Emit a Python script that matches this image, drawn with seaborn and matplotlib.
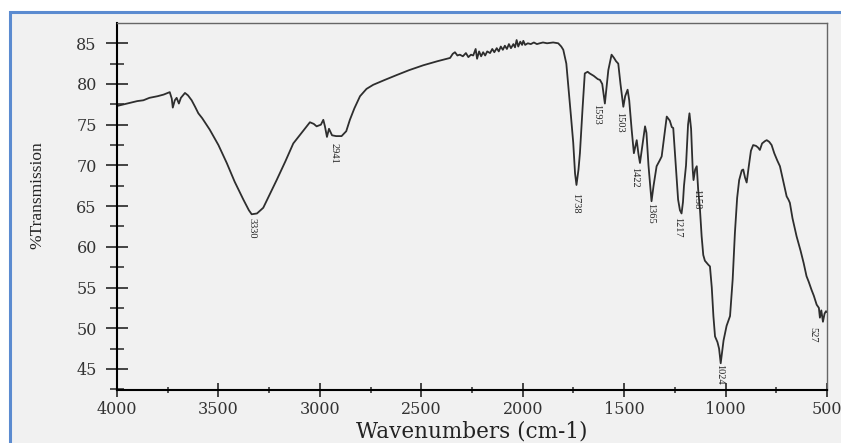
import numpy as np
import pandas as pd
import matplotlib
matplotlib.use('Agg')
import matplotlib.pyplot as plt
from matplotlib.patches import Rectangle
from matplotlib.ticker import MultipleLocator
import seaborn as sns

# 光谱数据
wavenumber = [
    4000, 3950, 3900, 3870, 3840, 3800, 3770, 3740, 3730, 3725, 3715, 3706, 3695, 3685,
    3665, 3650, 3632, 3615, 3599, 3580, 3543, 3500, 3459, 3420, 3377, 3350, 3336, 3310,
    3279, 3250, 3213, 3170, 3131, 3090, 3049, 3030, 3016, 2995, 2983, 2975, 2965, 2955,
    2940, 2920, 2893, 2870, 2852, 2830, 2802, 2770, 2737, 2680, 2621, 2560, 2490, 2420,
    2358, 2345, 2334, 2322, 2310, 2295, 2280, 2268, 2255, 2244, 2232, 2225, 2215, 2205,
    2195, 2185, 2175, 2161, 2150, 2140, 2128, 2118, 2108, 2098, 2088, 2078, 2068, 2058,
    2046, 2038, 2030, 2022, 2012, 2003, 1997, 1988, 1975, 1960, 1945, 1930, 1916, 1900,
    1880, 1850, 1825, 1810,
    1800, 1785, 1775, 1762, 1751, 1742, 1735, 1725, 1718, 1705, 1694, 1680, 1670, 1650,
    1630, 1619, 1608, 1595, 1585, 1578, 1562, 1550, 1540, 1529, 1518, 1504, 1495, 1483,
    1475, 1463, 1452, 1443, 1438, 1430, 1422, 1410, 1397, 1390, 1380, 1365, 1355, 1340,
    1325, 1315, 1300, 1290, 1275, 1265, 1258, 1248, 1234, 1225, 1217, 1210, 1205, 1195,
    1185, 1178, 1170, 1162, 1158, 1150, 1142, 1135, 1126, 1118, 1110, 1102, 1085, 1077,
    1068, 1060, 1052, 1040, 1032, 1024, 1010, 995, 978, 965, 954, 943, 933, 920,
    913, 904, 896, 885, 875, 864, 850, 840, 831, 820, 805, 797, 785, 773,
    760, 745, 732, 715, 699, 690, 683, 670, 650, 630, 615, 601, 590, 576,
    565, 551, 540, 535, 528, 520, 512, 505, 500,
]
transmission = [
    77.3, 77.6, 77.9, 78.0, 78.3, 78.5, 78.7, 79.0, 78.2, 77.1, 78.0, 78.3, 77.6, 78.3,
    78.9, 78.6, 78.0, 77.2, 76.4, 75.8, 74.4, 72.5, 70.3, 68.0, 65.8, 64.5, 64.0, 64.1,
    64.8, 66.3, 68.2, 70.5, 72.7, 74.0, 75.3, 75.1, 74.8, 75.0, 75.6, 74.8, 73.5, 74.5,
    73.7, 73.6, 73.6, 74.2, 75.6, 77.0, 78.5, 79.4, 79.9, 80.5, 81.1, 81.7, 82.3, 82.8,
    83.2, 83.7, 83.9, 83.5, 83.6, 83.4, 83.8, 83.3, 83.6, 83.5, 84.3, 83.1, 84.0, 83.4,
    83.9, 83.5, 84.0, 83.8, 84.3, 83.9, 84.4, 84.0, 84.6, 84.2, 84.7, 84.3, 84.9, 84.4,
    84.9, 84.5, 85.4, 84.6, 85.2, 84.8, 85.3, 84.8, 85.0, 84.9, 85.1, 84.9, 85.0, 85.1,
    85.0, 85.1, 85.0, 84.6,
    84.2, 82.5, 79.7, 76.0, 72.8, 69.0, 67.6, 69.5, 71.5, 77.0, 81.3, 81.5, 81.3, 81.0,
    80.6, 80.5, 80.0, 77.6, 80.0, 81.7, 83.6, 83.2, 82.8, 82.5, 80.0, 77.2, 78.5, 79.3,
    78.0, 74.4, 71.5, 72.5, 73.1, 71.5, 70.3, 72.5, 74.8, 74.0, 70.0, 65.6, 67.5, 69.9,
    70.6, 71.1, 74.0, 76.0, 75.5, 74.7, 74.6, 71.0, 65.8, 64.5, 64.1, 65.5, 67.5, 70.0,
    75.0, 76.4, 74.5, 69.5, 68.2, 69.5, 69.9, 67.0, 64.5, 61.3, 59.0, 58.3, 57.8, 57.6,
    55.0, 51.5, 49.0, 48.3, 47.5, 45.7, 48.5, 50.3, 51.5, 56.0, 61.7, 66.0, 68.2, 69.4,
    69.5, 68.5, 67.9, 70.0, 71.8, 72.5, 72.4, 72.2, 71.9, 72.7, 73.0, 73.1, 72.9, 72.5,
    71.5, 70.6, 69.9, 68.0, 66.2, 65.8, 65.4, 63.5, 61.3, 59.5, 58.0, 56.4, 55.7, 54.7,
    54.0, 52.9, 52.5, 51.3, 52.2, 50.8, 51.8, 52.1, 52.0,
]

# 峰标注: 文本, 位置
peak_labels = ['3330', '2941', '1738', '1593', '1503', '1422', '1365', '1217', '1158', '1024', '527']
peak_x = [3335, 2930, 1738, 1634, 1520, 1447, 1368, 1235, 1141, 1027, 569]
peak_y = [62.3, 71.5, 65.4, 76.3, 75.3, 68.6, 64.1, 62.4, 65.9, 44.3, 49.2]


def main():
    sns.set_theme(style='ticks')
    plt.rcParams['font.family'] = ['DejaVu Serif']

    fig = plt.figure(figsize=(8.41, 4.43), dpi=100, facecolor='white')
    # 外框 (浅灰背景 + 蓝色边框), 放在最底层
    frame = Rectangle((10 / 841, -0.1), 1.1, 1.1 - 12 / 443,
                      transform=fig.transFigure, facecolor='#f1f1f1',
                      edgecolor='#5b8bd0', lw=2.2, zorder=-10)
    fig.add_artist(frame)

    ax = fig.add_axes([117 / 841, 53 / 443, 710 / 841, 367 / 443])
    ax.set_facecolor('none')
    ax.set_zorder(1)

    df = pd.DataFrame({'wavenumber': wavenumber, 'transmission': transmission})
    sns.lineplot(data=df, x='wavenumber', y='transmission', sort=False,
                 color='#2e2e2e', lw=1.3, ax=ax)

    for lab, x, y in zip(peak_labels, peak_x, peak_y):
        ax.text(x, y, lab, rotation=270, ha='center', va='center', fontsize=7.5,
                family='Liberation Serif', color='#222222')

    ax.set_xlim(4000, 500)
    ax.set_ylim(42.42, 87.49)
    ax.xaxis.set_major_locator(MultipleLocator(500))
    ax.xaxis.set_minor_locator(MultipleLocator(250))
    ax.yaxis.set_major_locator(MultipleLocator(5))
    ax.yaxis.set_minor_locator(MultipleLocator(2.5))

    ax.tick_params(axis='y', which='major', direction='inout', length=16, width=1.2,
                   pad=6.5, labelsize=11.5, labelcolor='#333333')
    ax.tick_params(axis='y', which='minor', direction='inout', length=10.5, width=1.1)
    ax.tick_params(axis='x', which='major', direction='inout', length=9.5, width=1.2,
                   pad=3.5, labelsize=11.5, labelcolor='#333333')
    ax.tick_params(axis='x', which='minor', direction='inout', length=5, width=1.1)

    for side in ['left', 'bottom']:
        ax.spines[side].set_color('black')
        ax.spines[side].set_linewidth(1.5)
    for side in ['top', 'right']:
        ax.spines[side].set_visible(True)
        ax.spines[side].set_color('#666666')
        ax.spines[side].set_linewidth(1.0)

    ax.set_xlabel('Wavenumbers (cm-1)', fontsize=15.5, color='#222222')
    ax.set_ylabel('%Transmission', fontsize=12.5, family='Liberation Serif',
                  color='#222222')
    ax.xaxis.set_label_coords(0.5, -0.084)
    ax.yaxis.set_label_coords(-0.101, 0.531)

    fig.savefig('out.png', dpi=100, facecolor=fig.get_facecolor())
    plt.close(fig)


if __name__ == '__main__':
    main()
